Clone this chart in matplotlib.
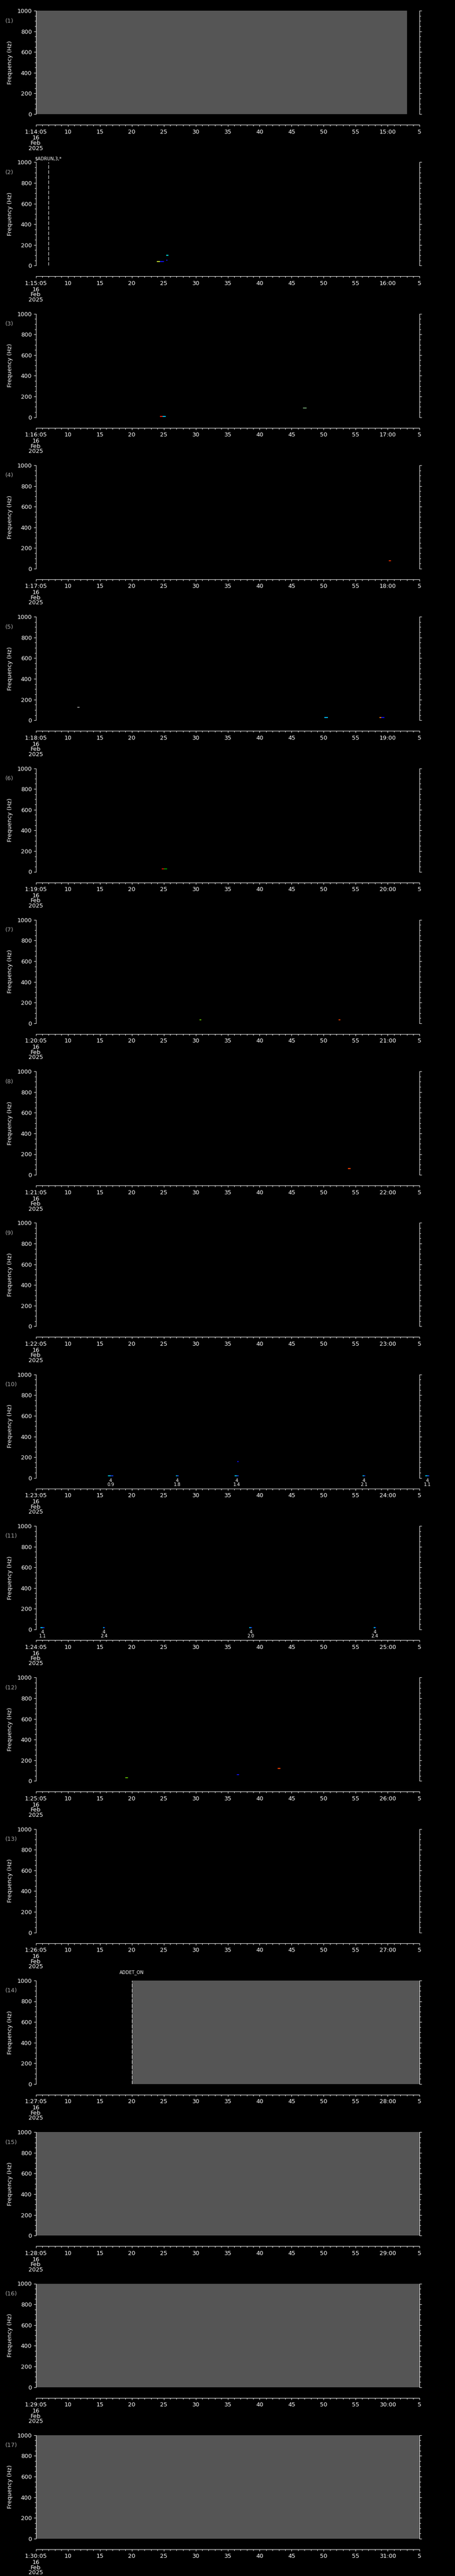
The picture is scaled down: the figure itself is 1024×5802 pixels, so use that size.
import matplotlib
matplotlib.use("Agg")
import matplotlib.pyplot as plt
from matplotlib.ticker import MultipleLocator
from matplotlib.transforms import blended_transform_factory

# ---------------- data ----------------
panel_ids = list(range(1, 18))
panel_start_minute = [14 + i for i in range(17)]        # each panel starts at 1:MM:05
date_lines = ["16", "Feb", "2025"]
freq_major = 200
freq_minor = 50

# gray (saturated/filled) spectrogram spans, seconds after panel start
gray_panels = [1, 14, 15, 16, 17]
gray_start = [0.0, 15.0, 0.0, 0.0, 0.0]
gray_end = [58.0, 60.0, 60.0, 60.0, 60.0]

# event markers (dashed lines + labels)
event_panels = [2, 14]
event_times = [1.95, 15.0]
event_texts = ["$ADRUN,3,*", "ADDET_ON"]

# small spectrogram features: panel, t0, t1 (s), frequency (Hz), colour
mark_panels = [2, 2, 2, 2,
               3, 3, 3,
               4,
               5, 5, 5, 5,
               6, 6,
               7, 7,
               8,
               10, 10, 10, 10, 10, 10, 10, 10, 10, 10, 10,
               11, 11, 11, 11, 11, 11, 11, 11,
               12, 12, 12]
mark_t0 = [18.9, 19.4, 20.4, 20.4,
           19.4, 19.8, 41.8,
           55.2,
           6.5, 45.1, 53.7, 54.0,
           19.7, 20.0,
           25.6, 47.3,
           48.8,
           11.3, 11.7, 21.9, 22.1, 31.1, 31.4, 51.1, 51.3, 60.9, 61.2, 31.5,
           0.75, 1.05, 10.5, 10.65, 33.4, 33.6, 52.8, 53.0,
           14.0, 31.4, 37.8]
mark_t1 = [19.4, 20.0, 20.6, 20.7,
           19.8, 20.3, 42.3,
           55.5,
           6.8, 45.7, 54.0, 54.5,
           20.0, 20.5,
           25.9, 47.6,
           49.2,
           11.7, 12.1, 22.1, 22.3, 31.4, 31.7, 51.3, 51.5, 61.2, 61.5, 31.7,
           1.05, 1.35, 10.65, 10.8, 33.6, 33.8, 53.0, 53.2,
           14.4, 31.8, 38.2]
mark_freq = [38, 38, 52, 100,
             8, 8, 90,
             75,
             124, 26, 28, 26,
             26, 26,
             34, 34,
             60,
             20, 20, 20, 20, 20, 20, 20, 20, 20, 20, 159,
             17, 17, 17, 17, 17, 17, 17, 17,
             30, 60, 120]
mark_colors = ["#c8e632", "#1010ff", "#1010ff", "#00e0e0",
               "#ff2000", "#00c8ff", "#70a070",
               "#ff3000",
               "#909090", "#00c0ff", "#ff8000", "#1010ff",
               "#ff1000", "#00a000",
               "#60c000", "#ff4000",
               "#ff4000",
               "#00c8ff", "#1040ff", "#00c8ff", "#1040ff", "#00c8ff", "#1040ff",
               "#00c8ff", "#1040ff", "#00c8ff", "#1040ff", "#1010ff",
               "#00c8ff", "#1040ff", "#00c8ff", "#1040ff", "#00c8ff", "#1040ff",
               "#00c8ff", "#1040ff",
               "#60c000", "#1010ff", "#ff4000"]

# burst annotations below the axis (count / value)
count_panels = [10, 10, 10, 10, 10, 11, 11, 11, 11]
count_times = [11.7, 22.1, 31.4, 51.3, 61.2, 1.05, 10.65, 33.6, 53.0]
count_n = ["4", "4", "4", "4", "4", "4", "4", "4", "4"]
count_vals = ["0.9", "1.8", "1.4", "2.1", "1.1", "1.1", "2.4", "2.0", "2.4"]

# ---------------- layout / style ----------------
W, H, DPI = 1024, 5802, 100
PX = 72.0 / DPI
LEFT, RIGHT = 80.7, 944.3
TOP0, STEP, PH = 24.0, 341.3, 233.0
FS = 9.4
FS_SMALL = 7.2
event_rise_px = [8, 18]

plt.rcParams["font.family"] = ["DejaVu Sans"]
fig = plt.figure(figsize=(W / DPI, H / DPI), dpi=DPI, facecolor="black")

axes = {}
for i, pid in enumerate(panel_ids):
    top = TOP0 + i * STEP
    bot = top + PH
    ax = fig.add_axes([LEFT / W, 1 - bot / H, (RIGHT - LEFT) / W, PH / H])
    axes[pid] = ax
    ax.set_facecolor("black")
    ax.set_xlim(0, 60)
    ax.set_ylim(0, 1000)

    for s in ("left", "right", "bottom"):
        ax.spines[s].set_color("white")
        ax.spines[s].set_linewidth(1 * PX)
    ax.spines["top"].set_visible(False)
    ax.spines["bottom"].set_position(("outward", 24 * PX))

    m = panel_start_minute[i]
    xticks = list(range(0, 61, 5))
    xlabels = []
    for t in xticks:
        sec = 5 + t
        if t == 0:
            xlabels.append(f"1:{m:02d}:05")
        elif sec == 60:
            xlabels.append(f"{m + 1}:00")
        else:
            xlabels.append(str(sec % 60))
    ax.set_xticks(xticks)
    ax.set_xticklabels(xlabels)
    ax.xaxis.set_minor_locator(MultipleLocator(1))
    ax.yaxis.set_major_locator(MultipleLocator(freq_major))
    ax.yaxis.set_minor_locator(MultipleLocator(freq_minor))

    ax.tick_params(axis="x", which="major", direction="out", length=4 * PX,
                   width=1 * PX, colors="white", labelsize=FS, pad=4)
    ax.tick_params(axis="x", which="minor", direction="out", length=3 * PX,
                   width=1 * PX, colors="white")
    ax.tick_params(axis="y", which="major", direction="out", length=5 * PX,
                   width=1 * PX, colors="white", labelsize=FS, pad=3,
                   left=True, right=True, labelright=False)
    ax.tick_params(axis="y", which="minor", direction="out", length=3 * PX,
                   width=1 * PX, colors="white", left=True, right=True)

    bt = blended_transform_factory(ax.transData, ax.transAxes)
    for j, txt in enumerate(date_lines):
        ax.annotate(txt, xy=(0, 0), xycoords=bt,
                    xytext=(0, -(54 + 11.5 * j) * PX), textcoords="offset points",
                    ha="center", va="center", color="white", fontsize=FS,
                    annotation_clip=False)

    fig.text(12 / W, 1 - (top + 23) / H, f"({pid})", color="#a8a8a8",
             fontsize=FS, ha="left", va="center")
    fig.text(23 / W, 1 - (top + PH / 2) / H, "Frequency (Hz)", rotation=90,
             color="white", fontsize=FS, ha="center", va="center")

for p, a, b in zip(gray_panels, gray_start, gray_end):
    axes[p].axvspan(a, b, color="#555555", lw=0, zorder=0.5)

for k, (p, t, txt) in enumerate(zip(event_panels, event_times, event_texts)):
    ax = axes[p]
    ax.axvline(t, color="white", lw=1 * PX, ls=(0, (8, 3.5)), zorder=3)
    bt = blended_transform_factory(ax.transData, ax.transAxes)
    ax.annotate(txt, xy=(t, 1), xycoords=bt,
                xytext=(0, event_rise_px[k] * PX), textcoords="offset points",
                ha="center", va="center", color="white", fontsize=FS_SMALL,
                parse_math=False, annotation_clip=False)

for p, a, b, f, c in zip(mark_panels, mark_t0, mark_t1, mark_freq, mark_colors):
    axes[p].plot([a, b], [f, f], color=c, lw=2 * PX, solid_capstyle="butt",
                 clip_on=False, zorder=2)

for p, t, n, v in zip(count_panels, count_times, count_n, count_vals):
    ax = axes[p]
    bt = blended_transform_factory(ax.transData, ax.transAxes)
    ax.annotate(n, xy=(t, 0), xycoords=bt, xytext=(0, -6 * PX),
                textcoords="offset points", ha="center", va="center",
                color="white", fontsize=FS_SMALL, annotation_clip=False)
    ax.annotate(v, xy=(t, 0), xycoords=bt, xytext=(0, -15 * PX),
                textcoords="offset points", ha="center", va="center",
                color="white", fontsize=FS_SMALL, annotation_clip=False)

fig.savefig("out.png", dpi=DPI, facecolor="black")
